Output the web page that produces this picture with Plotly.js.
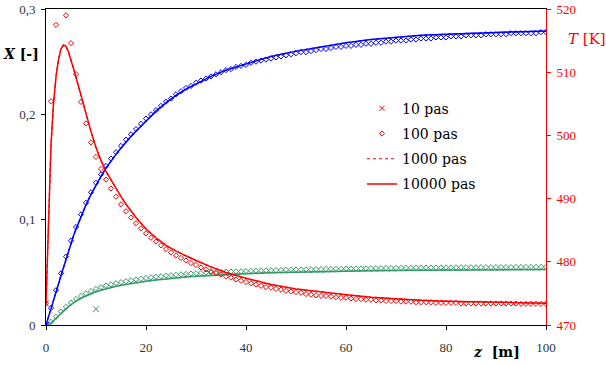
<!DOCTYPE html>
<html>
<head>
<meta charset="utf-8">
<script src="https://cdn.plot.ly/plotly-3.0.1.min.js"></script>
<style>html,body{margin:0;padding:0;background:#fff;}#chart{width:606px;height:366px;}</style>
</head>
<body>
<div id="chart"></div>
<script>
// ---- Data ----
// 10000 pas / 1000 pas : continuous solutions
const zLine = [0,0.25,0.5,0.75,1,1.5,2,2.5,3,3.5,4,4.5,5,5.5,6,6.5,7,7.5,8,9,10,11,12,13,14,15,16,17,18,19,20,22,24,26,28,30,33,36,40,45,50,55,60,65,70,75,80,85,90,95,100];
const xBlueLine = [0,0.0037,0.0075,0.0112,0.015,0.023,0.031,0.039,0.047,0.055,0.063,0.0705,0.078,0.0847,0.091,0.097,0.103,0.1085,0.114,0.124,0.133,0.141,0.149,0.156,0.162,0.168,0.174,0.179,0.184,0.189,0.194,0.203,0.211,0.218,0.224,0.229,0.236,0.242,0.248,0.255,0.260,0.264,0.268,0.271,0.273,0.275,0.276,0.277,0.278,0.2785,0.279];
const tRedLine = [473.4,479,487.5,493.5,498.5,505,509.3,512,513.7,514.3,514.1,513.2,512,510.6,509.2,507.7,506.2,504.8,503.4,500.6,498.1,496,494.3,492.9,491.6,490.3,489.1,488,487,486.1,485.2,483.8,482.6,481.7,480.9,480.2,479.2,478.3,477.4,476.4,475.7,475.2,474.8,474.4,474.1,473.9,473.75,473.65,473.55,473.5,473.45];
const xGreenLine = [0,0.0001,0.0004,0.001,0.0018,0.0038,0.006,0.0085,0.011,0.0133,0.0155,0.0175,0.0194,0.0211,0.0227,0.0241,0.0254,0.0266,0.0277,0.0297,0.0315,0.033,0.0344,0.0356,0.0367,0.0377,0.0386,0.0394,0.0402,0.0409,0.0416,0.0428,0.0439,0.0448,0.0456,0.0463,0.0472,0.0479,0.0487,0.0495,0.0501,0.0506,0.051,0.0514,0.0517,0.0519,0.0521,0.0523,0.0525,0.0526,0.0527];

// 100 pas : diamonds
const zDia = [0,1,2,3,4,5,6,7,8,9,10,11,12,13,14,15,16,17,18,19,20,21,22,23,24,25,26,27,28,29,30,31,32,33,34,35,36,37,38,39,40,41,42,43,44,45,46,47,48,49,50,51,52,53,54,55,56,57,58,59,60,61,62,63,64,65,66,67,68,69,70,71,72,73,74,75,76,77,78,79,80,81,82,83,84,85,86,87,88,89,90,91,92,93,94,95,96,97,98,99,100];
const xBlueDia = [0,0.016,0.033,0.049,0.065,0.080,0.093,0.105,0.116,0.126,0.135,0.143,0.151,0.158,0.164,0.170,0.176,0.181,0.186,0.191,0.196,0.200,0.204,0.208,0.212,0.215,0.219,0.222,0.225,0.227,0.230,0.232,0.234,0.236,0.238,0.240,0.242,0.243,0.245,0.246,0.247,0.249,0.250,0.251,0.252,0.253,0.254,0.255,0.256,0.257,0.258,0.259,0.259,0.260,0.261,0.262,0.262,0.263,0.264,0.264,0.265,0.265,0.266,0.266,0.267,0.267,0.268,0.268,0.269,0.269,0.270,0.270,0.270,0.271,0.271,0.272,0.272,0.272,0.273,0.273,0.273,0.274,0.274,0.274,0.275,0.275,0.275,0.275,0.276,0.276,0.276,0.276,0.276,0.277,0.277,0.277,0.277,0.277,0.277,0.278,0.278];
const tRedDia = [473.4,505.4,517.5,521.0,519.0,514.6,509.7,505.3,501.9,498.9,496.6,494.7,493.0,491.6,490.3,489.1,488.0,487.0,486.1,485.3,484.5,483.8,483.2,482.6,482.0,481.5,481.0,480.6,480.2,479.8,479.5,479.1,478.8,478.5,478.2,478.0,477.7,477.5,477.2,477.0,476.8,476.6,476.4,476.2,476.0,475.9,475.7,475.6,475.4,475.3,475.2,475.1,474.9,474.8,474.7,474.6,474.6,474.5,474.4,474.3,474.3,474.2,474.1,474.1,474.0,474.0,473.9,473.9,473.8,473.8,473.8,473.7,473.7,473.7,473.6,473.6,473.6,473.6,473.5,473.5,473.5,473.5,473.5,473.4,473.4,473.4,473.4,473.4,473.4,473.4,473.4,473.4,473.4,473.4,473.4,473.35,473.35,473.35,473.35,473.35,473.35];
const xGreenDia = [0,0.003,0.0078,0.0127,0.0172,0.0212,0.0247,0.0276,0.0301,0.0323,0.0343,0.036,0.0374,0.0386,0.0397,0.0407,0.0416,0.0424,0.0432,0.0439,0.0446,0.0452,0.0458,0.0463,0.0468,0.0473,0.0477,0.0481,0.0485,0.0488,0.0491,0.0494,0.0497,0.0499,0.0501,0.0503,0.0505,0.0507,0.0509,0.051,0.0512,0.0514,0.0515,0.0517,0.0518,0.052,0.0521,0.0522,0.0524,0.0525,0.0526,0.0527,0.0528,0.0529,0.053,0.0531,0.0532,0.0533,0.0533,0.0534,0.0535,0.0536,0.0537,0.0537,0.0538,0.0539,0.054,0.054,0.0541,0.0541,0.0542,0.0542,0.0543,0.0543,0.0544,0.0544,0.0545,0.0545,0.0545,0.0546,0.0546,0.0546,0.0547,0.0547,0.0548,0.0548,0.0548,0.0549,0.0549,0.0549,0.055,0.055,0.055,0.055,0.0551,0.0551,0.0551,0.0551,0.0552,0.0552,0.0552];

// 10 pas : crosses (only the visible ones)
const z10Blue = [0];   const xBlue10 = [0];
const z10Red = [0];    const tRed10 = [473.4];
const z10Green = [0,10]; const xGreen10 = [0,0.015];

const legendLabels = ['10 pas','100 pas','1000 pas','10000 pas'];

// ---- Styles ----
const BLUE = '#0000ff', RED = '#ff0000', GREEN = '#339966';
const LW = 1.5;
const SERIF_T = "'Liberation Serif', 'Times New Roman', serif";
const SERIF_D = "'DejaVu Serif', 'Liberation Serif', serif";

function lineTrace(x, y, color, dash, yaxis) {
  return {x: x, y: y, type: 'scatter', mode: 'lines', yaxis: yaxis,
    line: {color: color, width: dash === 'dot' ? 1.2 : LW, dash: dash}, showlegend: false, hoverinfo: 'skip'};
}
function diaTrace(x, y, color, yaxis) {
  return {x: x, y: y, type: 'scatter', mode: 'markers', yaxis: yaxis,
    marker: {symbol: 'diamond-open', size: 4, color: color, line: {width: 1, color: color}}, showlegend: false, hoverinfo: 'skip'};
}
function crossTrace(x, y, color, yaxis) {
  return {x: x, y: y, type: 'scatter', mode: 'markers', yaxis: yaxis,
    marker: {symbol: 'x-thin-open', size: 6, color: color, line: {width: 1, color: color}}, showlegend: false, hoverinfo: 'skip'};
}

const traces = [
  // 1000 pas (dotted, underneath)
  lineTrace(zLine, xGreenLine, GREEN, 'dot', 'y'),
  lineTrace(zLine, xBlueLine, BLUE, 'dot', 'y'),
  lineTrace(zLine, tRedLine, RED, 'dot', 'y2'),
  // 100 pas
  diaTrace(zDia, xGreenDia, GREEN, 'y'),
  diaTrace(zDia, xBlueDia, BLUE, 'y'),
  diaTrace(zDia, tRedDia, RED, 'y2'),
  // 10000 pas
  lineTrace(zLine, xGreenLine, GREEN, 'solid', 'y'),
  lineTrace(zLine, xBlueLine, BLUE, 'solid', 'y'),
  lineTrace(zLine, tRedLine, RED, 'solid', 'y2'),
  // 10 pas
  crossTrace(z10Green, xGreen10, GREEN, 'y'),
  crossTrace(z10Blue, xBlue10, BLUE, 'y'),
  crossTrace(z10Red, tRed10, RED, 'y2'),
  // legend entries
  {x: [null], y: [null], type: 'scatter', mode: 'markers', name: legendLabels[0], legendgroup: 'a',
    marker: {symbol: 'x-thin-open', size: 5, color: RED, line: {width: 1, color: RED}}},
  {x: [null], y: [null], type: 'scatter', mode: 'markers', name: legendLabels[1], legendgroup: 'b',
    marker: {symbol: 'diamond-open', size: 4, color: RED, line: {width: 1, color: RED}}},
  {x: [null], y: [null], type: 'scatter', mode: 'lines', name: legendLabels[2], legendgroup: 'c',
    line: {color: RED, width: 1.2, dash: 'dot'}},
  {x: [null], y: [null], type: 'scatter', mode: 'lines', name: legendLabels[3], legendgroup: 'd',
    line: {color: RED, width: LW}}
];

const tickFont = {family: SERIF_T, size: 13, color: '#333333'};
const titleFont = {family: SERIF_D, size: 14, color: '#000000'};

const layout = {
  width: 606, height: 366,
  margin: {l: 46, r: 60, t: 9, b: 41, pad: 0},
  paper_bgcolor: '#ffffff', plot_bgcolor: '#ffffff',
  separators: ',.',
  showlegend: true,
  legend: {x: 0.632, y: 0.735, xanchor: 'left', yanchor: 'top', bgcolor: 'rgba(0,0,0,0)',
    font: {family: SERIF_D, size: 14, color: '#000000'}, tracegroupgap: 4, traceorder: 'grouped'},
  xaxis: {range: [0, 100], tickvals: [0, 20, 40, 60, 80, 100], ticks: 'outside', ticklen: 4, tickcolor: '#000',
    showline: true, linecolor: '#000', linewidth: 1, mirror: true, showgrid: false, zeroline: false,
    tickfont: tickFont, ticklabelstandoff: 6, fixedrange: true},
  yaxis: {range: [0, 0.3], tickvals: [0, 0.1, 0.2, 0.3], ticks: 'outside', ticklen: 4, tickcolor: '#000',
    showline: true, linecolor: '#000', linewidth: 1, showgrid: false, zeroline: false,
    tickfont: tickFont, ticklabelstandoff: 3, ticklabeloverflow: 'allow', fixedrange: true},
  yaxis2: {overlaying: 'y', side: 'right', range: [470, 520], tickvals: [470, 480, 490, 500, 510, 520],
    ticks: 'outside', ticklen: 4, tickcolor: RED, showline: true, linecolor: RED, linewidth: 1,
    showgrid: false, zeroline: false, tickfont: {family: SERIF_T, size: 13, color: RED},
    ticklabelstandoff: 3, ticklabeloverflow: 'allow', fixedrange: true},
  annotations: [
    {xref: 'paper', yref: 'paper', x: -0.09, y: 0.857, xanchor: 'left', yanchor: 'middle', showarrow: false,
      text: '<b><i>X</i> [-]</b>', font: titleFont},
    {xref: 'paper', yref: 'paper', x: 1.04, y: 0.905, xanchor: 'left', yanchor: 'middle', showarrow: false,
      text: '<i>T</i> [K]', font: {family: SERIF_D, size: 15, color: RED}},
    {xref: 'paper', yref: 'paper', x: 0.9, y: -0.085, xanchor: 'center', yanchor: 'middle', showarrow: false,
      text: '<b><i>z</i>  [m]</b>', font: titleFont}
  ]
};

Plotly.newPlot('chart', traces, layout, {displayModeBar: false, staticPlot: true});
</script>
</body>
</html>
